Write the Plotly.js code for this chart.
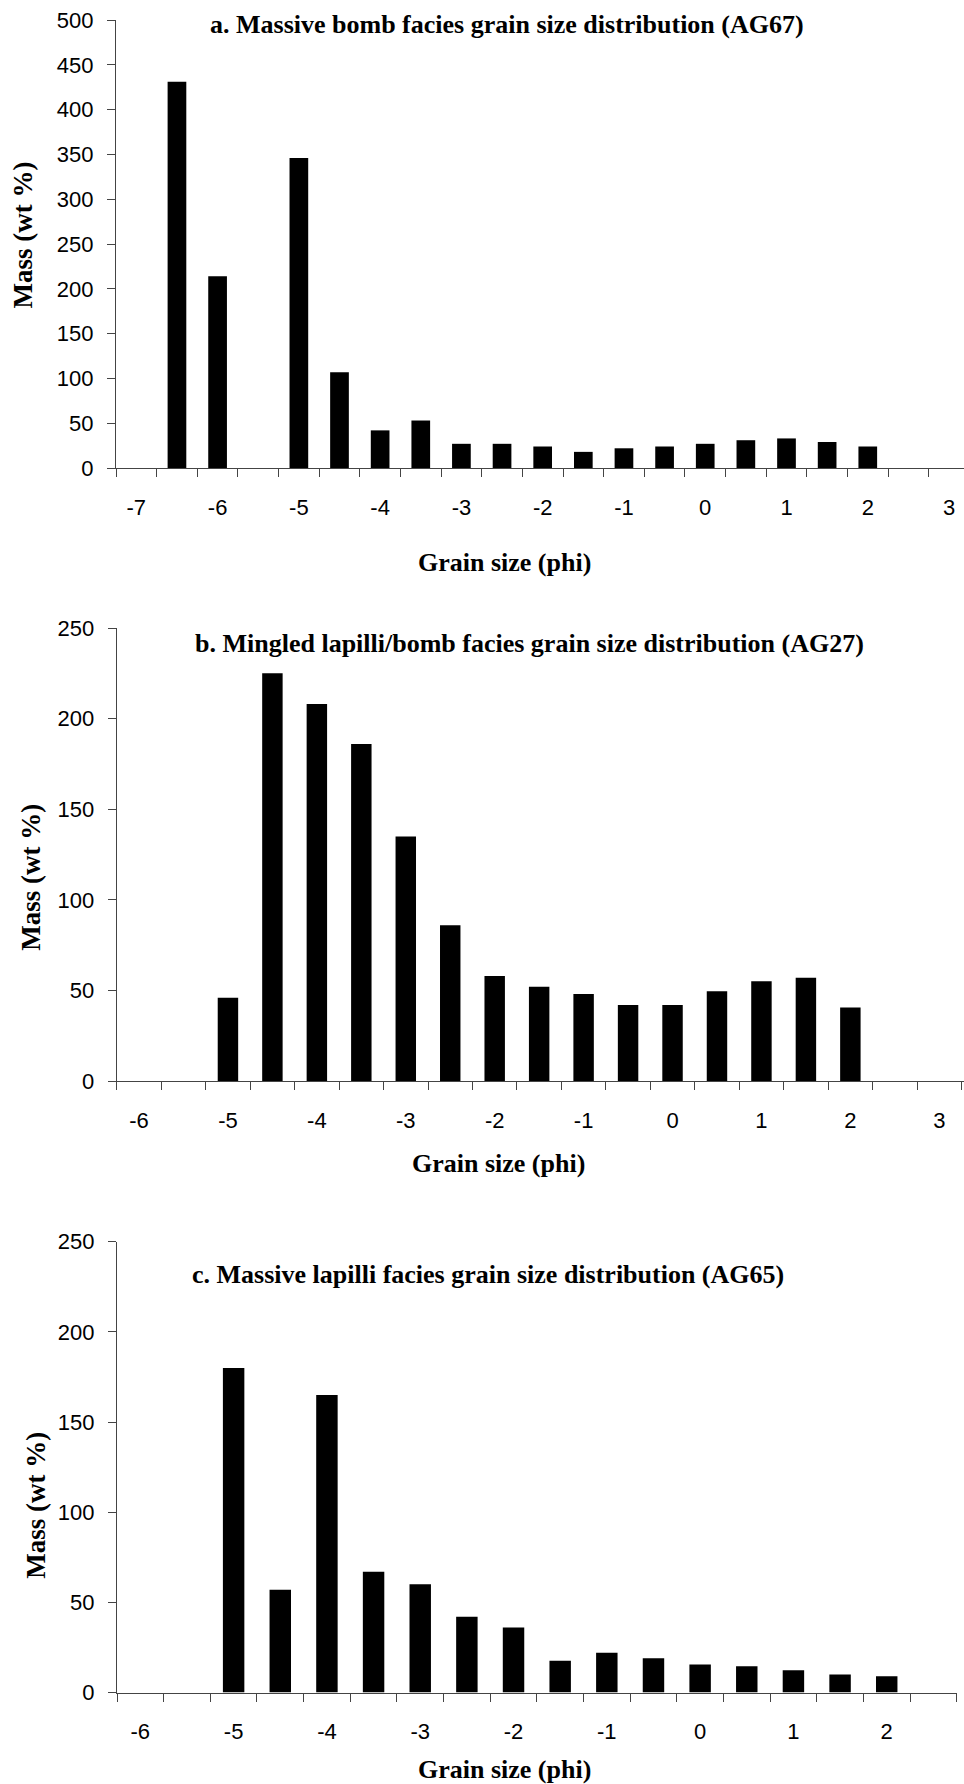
<!DOCTYPE html>
<html>
<head>
<meta charset="utf-8">
<script src="https://cdn.plot.ly/plotly-3.0.1.min.js"></script>
<style>
  html, body { margin: 0; padding: 0; background: #fff; }
  #chart { width: 964px; height: 1784px; }
</style>
</head>
<body>
<div id="chart"></div>
<script>
// ---------- data ----------
var grainA = [-7, -6.5, -6, -5.5, -5, -4.5, -4, -3.5, -3, -2.5, -2, -1.5, -1, -0.5, 0, 0.5, 1, 1.5, 2, 2.5, 3];
var massA  = [0, 431, 214, 0, 346, 107, 42, 53, 27, 27, 24, 18, 22, 24, 27, 31, 33, 29, 24, 0, 0];

var grainB = [-6, -5.5, -5, -4.5, -4, -3.5, -3, -2.5, -2, -1.5, -1, -0.5, 0, 0.5, 1, 1.5, 2, 2.5, 3];
var massB  = [0, 0, 46, 225, 208, 186, 135, 86, 58, 52, 48, 42, 42, 49.5, 55, 57, 40.6, 0, 0];

var grainC = [-6, -5.5, -5, -4.5, -4, -3.5, -3, -2.5, -2, -1.5, -1, -0.5, 0, 0.5, 1, 1.5, 2, 2.5];
var massC  = [0, 0, 180, 57, 165, 67, 60, 42, 36, 17.6, 22, 19, 15.5, 14.6, 12.4, 10, 9, 0];

var tickValsA = [-7, -6, -5, -4, -3, -2, -1, 0, 1, 2, 3];
var tickTextA = ['-7', '-6', '-5', '-4', '-3', '-2', '-1', '0', '1', '2', '3'];
var tickValsB = [-6, -5, -4, -3, -2, -1, 0, 1, 2, 3];
var tickTextB = ['-6', '-5', '-4', '-3', '-2', '-1', '0', '1', '2', '3'];
var tickValsC = [-6, -5, -4, -3, -2, -1, 0, 1, 2];
var tickTextC = ['-6', '-5', '-4', '-3', '-2', '-1', '0', '1', '2'];

var titleA = 'a. Massive bomb facies grain size distribution (AG67)';
var titleB = 'b. Mingled lapilli/bomb facies grain size distribution (AG27)';
var titleC = 'c. Massive lapilli facies grain size distribution (AG65)';
var xTitle = 'Grain size (phi)';
var yTitle = 'Mass (wt %)';

// ---------- layout helpers ----------
var W = 964, H = 1784;
function px(x) { return x / W; }
function py(y) { return 1 - y / H; }

var tickFont = { family: 'Liberation Sans, Arial, sans-serif', size: 22, color: '#000' };
var titleFont = { family: 'Liberation Serif, Times New Roman, serif', size: 26, color: '#000', weight: 'bold' };
var xTitleFont = { family: 'Liberation Serif, Times New Roman, serif', size: 26, color: '#000', weight: 'bold' };
var yTitleFont = { family: 'Liberation Serif, Times New Roman, serif', size: 27, color: '#000', weight: 'bold' };
var axisColor = '#444';

function xAxis(domain, range, tv, tt, anchor) {
  return {
    domain: domain, range: range, anchor: anchor, type: 'linear',
    showgrid: false, zeroline: false, showline: true, linecolor: axisColor, linewidth: 1.2,
    tickmode: 'array', tickvals: tv, ticktext: tt, ticks: '',
    minor: { tickmode: 'linear', tick0: range[0], dtick: 0.5, ticks: 'outside', ticklen: 8, tickwidth: 1, tickcolor: axisColor, showgrid: false },
    tickfont: tickFont, ticklabelstandoff: 19, fixedrange: true
  };
}
function yAxis(domain, maxv, dtick, anchor) {
  return {
    domain: domain, range: [0, maxv], anchor: anchor,
    showgrid: false, zeroline: false, showline: true, linecolor: axisColor, linewidth: 1.2,
    tickmode: 'linear', tick0: 0, dtick: dtick, ticks: 'outside', ticklen: 8, tickwidth: 1, tickcolor: axisColor,
    tickfont: tickFont, ticklabelstandoff: 9, fixedrange: true
  };
}

var barStyle = { color: '#000', line: { width: 0 } };
var data = [
  { type: 'bar', x: grainA, y: massA, xaxis: 'x', yaxis: 'y', marker: barStyle, hoverinfo: 'x+y' },
  { type: 'bar', x: grainB, y: massB, xaxis: 'x2', yaxis: 'y2', marker: barStyle, hoverinfo: 'x+y' },
  { type: 'bar', x: grainC, y: massC, xaxis: 'x3', yaxis: 'y3', marker: barStyle, hoverinfo: 'x+y' }
];

function ann(text, x, y, font, rot) {
  return { text: text, xref: 'paper', yref: 'paper', x: px(x), y: py(y),
           xanchor: 'center', yanchor: 'middle', showarrow: false, font: font, textangle: rot || 0 };
}

var layout = {
  width: W, height: H,
  margin: { l: 0, r: 0, t: 0, b: 0 },
  paper_bgcolor: '#fff', plot_bgcolor: 'rgba(0,0,0,0)',
  showlegend: false, bargap: 0.54,
  xaxis:  xAxis([px(116), 1], [-7.25, 3.184], tickValsA, tickTextA, 'y'),
  yaxis:  yAxis([py(468), py(20)], 500, 50, 'x'),
  xaxis2: xAxis([px(116.8), 1], [-6.25, 3.278], tickValsB, tickTextB, 'y2'),
  yaxis2: yAxis([py(1081), py(628)], 250, 50, 'x2'),
  xaxis3: xAxis([px(117), px(956.7)], [-6.25, 2.75], tickValsC, tickTextC, 'y3'),
  yaxis3: yAxis([py(1692.5), py(1241.7)], 250, 50, 'x3'),
  annotations: [
    ann(titleA, 507, 24, titleFont),
    ann(titleB, 529, 643.5, titleFont),
    ann(titleC, 488, 1274.5, titleFont),
    ann(xTitle, 504, 562, xTitleFont),
    ann(xTitle, 498, 1163.7, xTitleFont),
    ann(xTitle, 504, 1769.8, xTitleFont),
    ann(yTitle, 23.4, 235, yTitleFont, -90),
    ann(yTitle, 30.7, 877, yTitleFont, -90),
    ann(yTitle, 35.7, 1505, yTitleFont, -90)
  ]
};

Plotly.newPlot('chart', data, layout, { displayModeBar: false, staticPlot: true });
</script>
</body>
</html>
